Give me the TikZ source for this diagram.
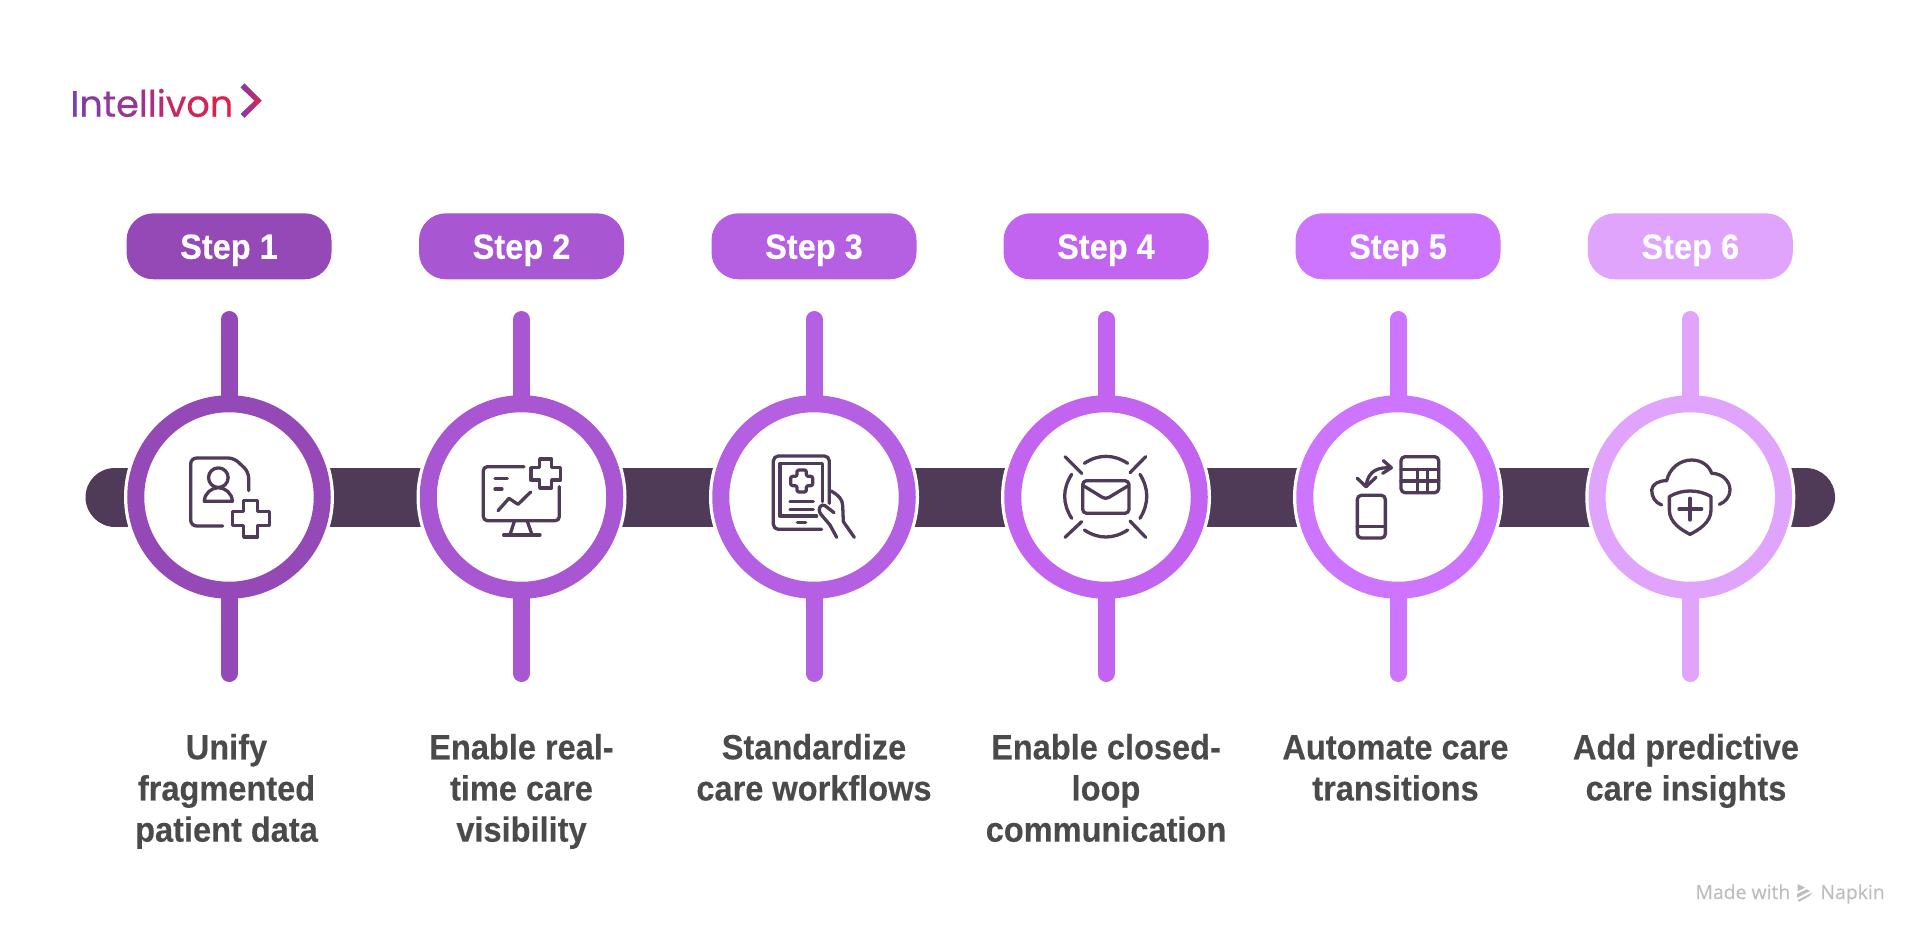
\documentclass[tikz,border=0pt]{standalone}
\usepackage{fontspec}
\setmainfont{Liberation Sans}
\newfontfamily\labfont[FakeStretch=0.93,FakeBold=0.25]{Liberation Sans}
\newfontfamily\logofont[FakeBold=0.5]{Poppins}
\newfontfamily\wmfont[FakeBold=0.15]{Open Sans}
\definecolor{barc}{HTML}{4F3A58}
\definecolor{txtc}{HTML}{4A4A4A}
\definecolor{ca}{HTML}{9449B7}
\definecolor{cb}{HTML}{A856D2}
\definecolor{cc}{HTML}{B55FE3}
\definecolor{cd}{HTML}{C264F0}
\definecolor{ce}{HTML}{CE75FF}
\definecolor{cf}{HTML}{E0A4FD}
\definecolor{wm}{HTML}{BDBDBD}
\definecolor{la}{HTML}{7B3FAE}
\definecolor{lb}{HTML}{E0204A}
\tikzset{
  pill/.style={fill=#1,rounded corners=13.5pt,minimum width=102.5pt,minimum height=33pt,inner sep=0pt,
    text=white,text height=12.5pt,text depth=0pt,font=\labfont\bfseries\fontsize{17.5}{20}\selectfont},
  ring/.style={circle,draw=#1,fill=white,line width=8.5pt,minimum size=93.25pt,inner sep=0pt},
  stem/.style={draw=#1,line width=8.5pt,line cap=round},
  lab/.style={anchor=north,inner sep=0pt,align=center,text=txtc,font=\labfont\bfseries\fontsize{17.5}{20.6}\selectfont},
  ic/.style={draw=barc,line width=1.65pt,line cap=round,line join=round},
  zoomed/.style={shift={#1},x=0.166667pt,y=-0.166667pt},
}
\begin{document}
\begin{tikzpicture}[x=0.5pt,y=-0.5pt]
\useasboundingbox (0,0) rectangle (1920,936);
\fill[white] (0,0) rectangle (1920,936);
% logo
\node[anchor=base west,inner sep=0pt,font=\logofont\fontsize{18.3}{20}\selectfont] (logo) at (70,116.7)
 {\textcolor{la}{I}\textcolor{la!91!lb}{n}\textcolor{la!80!lb}{t}\textcolor{la!70!lb}{e}\textcolor{la!60!lb}{l}\textcolor{la!50!lb}{l}\textcolor{la!40!lb}{i}\textcolor{la!28!lb}{v}\textcolor{la!15!lb}{o}\textcolor{lb}{n}};
\shade[left color=la,right color=lb] (240.5,87.5) -- (244.5,83.3) -- (261.7,100.7) -- (244.5,118) -- (240.5,114) -- (254.5,100.7) -- cycle;
% bar
\coordinate (barL) at (115,497);
\coordinate (barR) at (1805.5,497);
\draw[barc,line width=29.5pt,line cap=round] (barL) -- (barR);
% steps
\foreach \i/\x/\lx/\col/\txt in {1/229/226.5/ca/{Unify\\fragmented\\patient data},
  2/521.5/521.5/cb/{Enable real-\\time care\\visibility},
  3/814/814/cc/{Standardize\\care workflows},
  4/1106/1106/cd/{Enable closed-\\loop\\communication},
  5/1398/1395.5/ce/{\vphantom{d}Automate care\\transitions},
  6/1690.3/1686/cf/{Add predictive\\care insights}}{
  \fill[white] (\x,497) circle[radius=52.5pt];
  \node[ring=\col] (c\i) at (\x,497) {};
  \node[pill=\col] (s\i) at (\x,246.3) {Step \i};
  \coordinate (t\i) at (\x,319.5);
  \coordinate (b\i) at (\x,673.5);
  \draw[stem=\col,shorten >=-2pt] (t\i) -- (c\i);
  \draw[stem=\col,shorten >=-2pt] (b\i) -- (c\i);
  \node[lab] (l\i) at (\lx,733.5) {\txt};
}
% icon 1
\begin{scope}[zoomed={(170,440)}]
\draw[ic,rounded corners=3pt] (158,258) -- (62,258) -- (62,54) -- (192,54) -- (236,96) -- (236,152);
\draw[ic] (145,113) circle[radius=4.9pt];
\draw[ic] (103,184) -- (187,184) .. controls (187,160) and (165,143) .. (145,143) .. controls (125,143) and (103,160) .. (103,184) -- cycle;
\draw[ic] (221,182) -- (263,182) -- (263,214) -- (298,214) -- (298,257) -- (263,257) -- (263,291) -- (221,291) -- (221,257) -- (187,257) -- (187,214) -- (221,214) -- cycle;
\end{scope}
% icon 2
\begin{scope}[zoomed={(470,440)}]
\draw[ic,rounded corners=2pt] (162,80) -- (40,80) -- (40,242) -- (268,242) -- (268,140);
\draw[ic] (209,57) -- (245,57) -- (245,83) -- (272,83) -- (272,120) -- (245,120) -- (245,144) -- (209,144) -- (209,120) -- (183,120) -- (183,83) -- (209,83) -- cycle;
\draw[ic] (75,116) -- (112,116);
\draw[ic] (75,147) -- (96,147);
\draw[ic] (84,212) -- (117,175) -- (144,193) -- (182,156);
\draw[ic] (133,244) -- (120,284);
\draw[ic] (172,244) -- (186,284);
\draw[ic] (101,285) -- (210,285);
\end{scope}
% icon 3
\begin{scope}[zoomed={(755,440)}]
\draw[ic,rounded corners=2.5pt] (200,268) -- (55,268) -- (55,48) -- (223,48) -- (223,190);
\draw[ic] (185,228) -- (75,228) -- (75,70) -- (203,70) -- (203,185);
\draw[ic,rounded corners=1pt] (126,90) -- (154,90) -- (154,109) -- (173,109) -- (173,137) -- (154,137) -- (154,156) -- (126,156) -- (126,137) -- (107,137) -- (107,109) -- (126,109) -- cycle;
\draw[ic] (105,185) -- (175,185);
\draw[ic] (105,208) -- (175,208);
\draw[ic] (127,248) -- (152,248);
\draw[ic] (228,153) .. controls (250,165) and (263,178) .. (263,197) -- (265,245) -- (298,292);
\draw[ic] (237,218) -- (210,197) .. controls (198,190) and (186,205) .. (197,222) -- (225,255) -- (245,292);
\end{scope}
% icon 4
\begin{scope}[zoomed={(1045,440)}]
\draw[ic] (60,50) -- (110,100);
\draw[ic] (302,50) -- (255,98);
\draw[ic] (60,292) -- (110,245);
\draw[ic] (302,292) -- (255,243);
\draw[ic] (118,70) .. controls (160,42) and (205,42) .. (248,70);
\draw[ic] (118,270) .. controls (160,298) and (205,298) .. (248,270);
\draw[ic] (80,103) .. controls (52,147) and (52,190) .. (80,235);
\draw[ic] (285,103) .. controls (312,147) and (312,190) .. (285,235);
\draw[ic,rounded corners=2pt] (113,122) rectangle (252,220);
\draw[ic] (115,137) -- (172,172) .. controls (178,176) and (186,176) .. (192,172) -- (250,137);
\end{scope}
% icon 5
\begin{scope}[zoomed={(1340,440)}]
\draw[ic,rounded corners=2pt] (183,50) rectangle (296,158);
\draw[ic] (183,88) -- (296,88);
\draw[ic] (183,123) -- (296,123);
\draw[ic] (233,88) -- (233,158);
\draw[ic] (263,88) -- (263,158);
\draw[ic,rounded corners=2pt] (52,166) rectangle (136,294);
\draw[ic] (52,260) -- (136,260);
\draw[ic] (154,83) .. controls (120,83) and (85,85) .. (78,140);
\draw[ic] (130,62) -- (154,83) -- (128,100);
\draw[ic] (52,115) -- (78,140) -- (108,112);
\end{scope}
% icon 6
\begin{scope}[zoomed={(1630,440)}]
\draw[ic] (95,195) .. controls (75,188) and (65,170) .. (65,150) .. controls (67,132) and (85,122) .. (110,122) .. controls (118,85) and (150,60) .. (185,60) .. controls (215,60) and (238,78) .. (245,100) .. controls (278,100) and (300,125) .. (300,150) .. controls (300,170) and (285,187) .. (268,193);
\draw[ic] (118,170) .. controls (140,157) and (160,153) .. (180,153) .. controls (200,153) and (222,157) .. (243,170) -- (243,210) .. controls (243,248) and (205,270) .. (180,283) .. controls (155,270) and (118,248) .. (118,210) -- cycle;
\draw[ic] (147,207) -- (215,207);
\draw[ic] (180,175) -- (180,240);
\end{scope}
% watermark
\node[anchor=base west,inner sep=0pt,text=wm,font=\wmfont\fontsize{9.7}{12}\selectfont] (wm1) at (1695,899) {Made with};
\node[anchor=base west,inner sep=0pt,text=wm,font=\wmfont\fontsize{9.7}{12}\selectfont] (wm2) at (1820,899) {Napkin};
\begin{scope}[zoomed={(1620,860)}]
\fill[wm] (533,72) -- (555,83) -- (533,94) -- cycle;
\fill[wm] (531,102) -- (560,88) -- (570,93) -- (531,113) -- cycle;
\fill[wm] (533,120) -- (578,97) -- (568,108) -- (538,125) -- cycle;
\end{scope}
\end{tikzpicture}
\end{document}
